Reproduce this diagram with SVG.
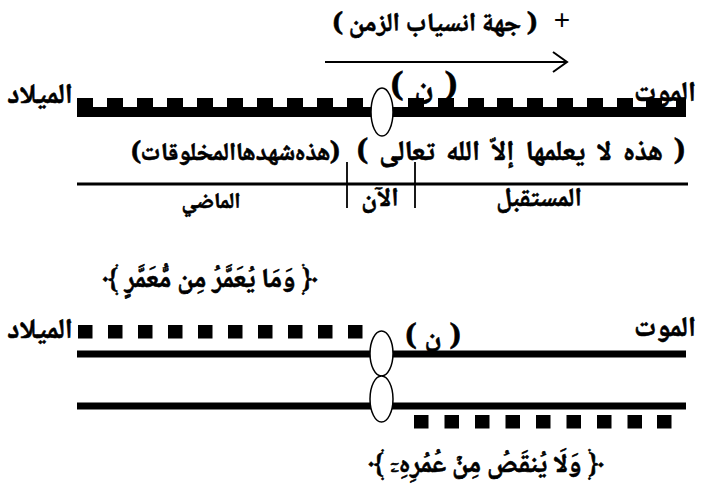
<svg xmlns="http://www.w3.org/2000/svg" width="718" height="498" viewBox="0 0 718 498">
<style>
.ar{font-family:'Noto Naskh Arabic',serif;font-weight:bold;fill:#000;stroke:#000;stroke-width:0.6px;text-anchor:middle}
.s22{font-size:22px}.s25{font-size:25px}.s26{font-size:26px}.s27{font-size:27px}.s28{font-size:28px}.s32{font-size:32px}
.plus{font-family:'Liberation Sans',sans-serif;font-size:28px;text-anchor:middle}
.blk{fill:#000}
.el{fill:#fff;stroke:#000;stroke-width:1.5px}
.ln{stroke:#000;fill:none}
</style>
<defs>
<rect id="tooth" width="16" height="10" class="blk"/>
<rect id="sq" width="14.5" height="13.5" class="blk"/>
</defs>
<rect width="718" height="498" fill="#fff"/>

<g id="direction">
<text class="ar s26" x="435" y="31" direction="rtl">( جهة انسياب الزمن )</text>
<text class="plus" x="562" y="29">+</text>
</g>

<g id="connectors">
<line class="ln" x1="325" y1="62" x2="567" y2="62" stroke-width="2"/>
<polyline class="ln" points="553,52 567,62 553,72" stroke-width="2"/>
<line class="ln" x1="77" y1="184" x2="688" y2="184" stroke-width="3"/>
<line class="ln" x1="347" y1="162" x2="347" y2="208" stroke-width="1.8"/>
<line class="ln" x1="415" y1="162" x2="415" y2="208" stroke-width="1.8"/>
</g>

<g id="timeline1">
<rect x="77" y="107" width="609" height="10" class="blk"/>
<use href="#tooth" x="77" y="98"/><use href="#tooth" x="107" y="98"/><use href="#tooth" x="137" y="98"/><use href="#tooth" x="167" y="98"/><use href="#tooth" x="197" y="98"/>
<use href="#tooth" x="227" y="98"/><use href="#tooth" x="257" y="98"/><use href="#tooth" x="287" y="98"/><use href="#tooth" x="317" y="98"/><use href="#tooth" x="347" y="98"/>
<use href="#tooth" x="408" y="98"/><use href="#tooth" x="438" y="98"/><use href="#tooth" x="468" y="98"/><use href="#tooth" x="497" y="98"/><use href="#tooth" x="527" y="98"/>
<use href="#tooth" x="557" y="98"/><use href="#tooth" x="587" y="98"/><use href="#tooth" x="617" y="98"/><use href="#tooth" x="646" y="98"/>
<rect x="676" y="98" width="10" height="10" class="blk"/>
<ellipse class="el" cx="382" cy="112" rx="11" ry="24"/>
<text class="ar s32" x="424" y="96" direction="rtl" word-spacing="4">( ن )</text>
<text class="ar s28" x="40" y="103">الميلاد</text>
<text class="ar s28" x="665" y="101">الموت</text>
</g>

<g id="labels">
<text class="ar s25" x="235.5" y="160" direction="rtl" word-spacing="-6">( هذه شهدها المخلوقات )</text>
<text class="ar s28" x="521" y="160" direction="rtl" word-spacing="5">( هذه لا يعلمها إلاّ الله تعالى )</text>
<text class="ar s22" x="211" y="208">الماضي</text>
<text class="ar s26" x="380" y="206">الآن</text>
<text class="ar s26" x="539" y="206">المستقبل</text>
</g>

<g id="verse1">
<text class="ar s27" x="210" y="287" direction="rtl">﴿ وَمَا يُعَمَّرُ مِن مُّعَمَّرٍ ﴾</text>
</g>

<g id="timeline2">
<use href="#sq" x="78" y="325"/><use href="#sq" x="108" y="325"/><use href="#sq" x="138" y="325"/><use href="#sq" x="168" y="325"/><use href="#sq" x="198" y="325"/>
<use href="#sq" x="228" y="325"/><use href="#sq" x="258" y="325"/><use href="#sq" x="288" y="325"/><use href="#sq" x="318" y="325"/><use href="#sq" x="348" y="325"/>
<rect x="77" y="350.5" width="609" height="7" class="blk"/>
<rect x="77" y="402.5" width="609" height="7" class="blk"/>
<ellipse class="el" cx="381.5" cy="353.5" rx="11.5" ry="22.5"/>
<ellipse class="el" cx="381.5" cy="399" rx="11.5" ry="23"/>
<text class="ar s28" x="433" y="345" direction="rtl" word-spacing="2">( ن )</text>
<text class="ar s28" x="40" y="338">الميلاد</text>
<text class="ar s28" x="665" y="336">الموت</text>
<use href="#sq" x="414" y="415"/><use href="#sq" x="444.5" y="415"/><use href="#sq" x="475" y="415"/><use href="#sq" x="505.5" y="415"/><use href="#sq" x="536" y="415"/>
<use href="#sq" x="566.5" y="415"/><use href="#sq" x="597" y="415"/><use href="#sq" x="627.5" y="415"/><use href="#sq" x="657" y="415"/>
</g>

<g id="verse2">
<text class="ar s27" x="486" y="472" direction="rtl">﴿ وَلَا يُنقَصُ مِنۡ عُمُرِهِۦٓ ﴾</text>
</g>
</svg>
